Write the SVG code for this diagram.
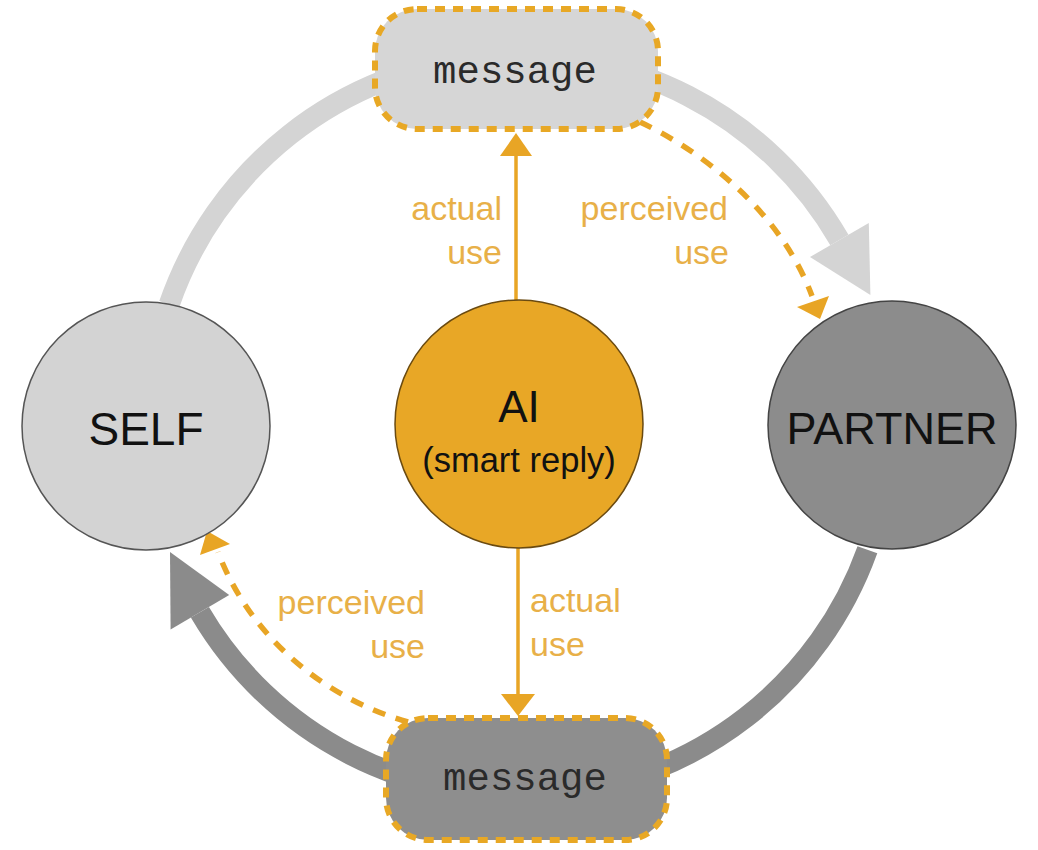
<svg xmlns="http://www.w3.org/2000/svg" width="1038" height="850" viewBox="0 0 1038 850">
  <style>
    .ring-light { fill: none; stroke: #d4d4d4; stroke-width: 21; }
    .ring-dark { fill: none; stroke: #8b8b8b; stroke-width: 21; }
    .use-line { fill: none; stroke: #e8a525; stroke-width: 3.5; }
    .perceived { fill: none; stroke: #e8a525; stroke-width: 5.5; stroke-dasharray: 13 11; }
    .box { stroke: #e8a825; stroke-width: 6; stroke-dasharray: 10 8; }
    .label { font-family: "Liberation Sans", Arial, sans-serif; font-size: 34px; fill: #e8b048; }
    .name { font-family: "Liberation Sans", Arial, sans-serif; fill: #111; text-anchor: middle; }
    .msg { font-family: "Courier New", "Liberation Mono", monospace; font-size: 39px; fill: #2a2a2a; text-anchor: middle; }
  </style>
  <rect width="1038" height="850" fill="#ffffff"/>

  <!-- connectors -->
  <g id="connectors">
    <!-- outer ring: self -> message -> partner -->
    <path class="ring-light" d="M169.2,304.5 A370,370 0 0 1 839.4,240"/>
    <polygon points="868.8,223 810,257 870.4,295" fill="#d4d4d4"/>
    <!-- outer ring: partner -> message -> self -->
    <path class="ring-dark" d="M867.4,549.7 A370,370 0 0 1 199.9,612.2"/>
    <polygon points="170.6,629.4 229.2,595 170,552" fill="#8b8b8b"/>

    <!-- actual use (AI -> messages) -->
    <line class="use-line" x1="516" y1="300" x2="516" y2="152"/>
    <polygon points="516,133 500,156 532,156" fill="#e8a525"/>
    <line class="use-line" x1="518" y1="548" x2="518" y2="698"/>
    <polygon points="518,716 501,694 535,694" fill="#e8a525"/>

    <!-- perceived use (messages -> people) -->
    <path class="perceived" d="M640,122 C700,150 780,210 812,296"/>
    <polygon points="797,307 829,296 820,319" fill="#e8a525"/>
    <path class="perceived" d="M408,722 C330,700 252,642 218,552"/>
    <polygon points="207,531 200,555 230,544" fill="#e8a525"/>
  </g>

  <!-- connector labels -->
  <g id="labels">
    <text class="label" x="502" y="220" text-anchor="end">actual</text>
    <text class="label" x="502" y="264" text-anchor="end">use</text>
    <text class="label" x="728" y="220" text-anchor="end">perceived</text>
    <text class="label" x="729" y="264" text-anchor="end">use</text>
    <text class="label" x="425" y="614" text-anchor="end">perceived</text>
    <text class="label" x="425" y="658" text-anchor="end">use</text>
    <text class="label" x="530" y="612">actual</text>
    <text class="label" x="530" y="656">use</text>
  </g>

  <g id="self">
    <circle cx="146" cy="426" r="124" fill="#d3d3d3" stroke="#555" stroke-width="1.5"/>
    <text class="name" x="146" y="445" font-size="46">SELF</text>
  </g>

  <g id="ai">
    <circle cx="519" cy="424" r="124" fill="#e8a726" stroke="#6a4a10" stroke-width="1.5"/>
    <text class="name" x="519" y="422" font-size="44">AI</text>
    <text class="name" x="519" y="472" font-size="34.5">(smart reply)</text>
  </g>

  <g id="partner">
    <circle cx="892" cy="425" r="124" fill="#8c8c8c" stroke="#444" stroke-width="1.5"/>
    <text class="name" x="892" y="444" font-size="45">PARTNER</text>
  </g>

  <g id="message-top">
    <rect class="box" x="375" y="9" width="283" height="120" rx="42" fill="#d6d6d6"/>
    <text class="msg" x="515" y="83">message</text>
  </g>

  <g id="message-bottom">
    <rect class="box" x="386" y="718" width="281" height="122" rx="42" fill="#8e8e8e"/>
    <text class="msg" x="525" y="790">message</text>
  </g>
</svg>
